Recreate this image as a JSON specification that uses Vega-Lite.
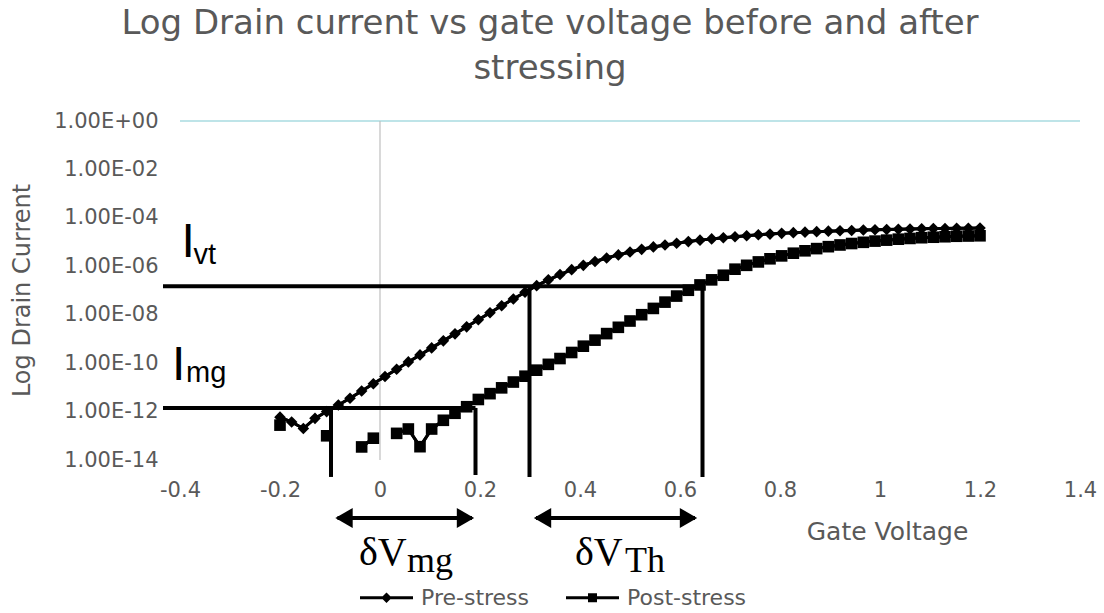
{
  "$schema": "https://vega.github.io/schema/vega-lite/v6.json",
  "width": 900,
  "height": 339,
  "autosize": {"type": "none"},
  "padding": {"left": 180, "top": 121, "right": 24, "bottom": 153},
  "background": "white",
  "view": {"stroke": null},
  "title": {
    "text": ["Log Drain current vs gate voltage before and after", "stressing"],
    "anchor": "middle",
    "frame": "group",
    "dx": -80,
    "font": "DejaVu Sans",
    "fontSize": 34,
    "fontWeight": "normal",
    "color": "#595959",
    "lineHeight": 45,
    "offset": 24
  },
  "config": {
    "axisX": {
      "domain": false, "ticks": false, "grid": false,
      "labelFont": "DejaVu Sans", "labelFontSize": 21, "labelColor": "#595959",
      "labelPadding": 19, "labelFlush": false, "labelOverlap": false,
      "titleFont": "DejaVu Sans", "titleFontSize": 25,
      "titleFontWeight": "normal", "titleColor": "#595959",
      "titleX": 707, "titleY": 71, "titleAlign": "center", "titleBaseline": "middle"
    },
    "axisY": {
      "domain": false, "ticks": false, "grid": false,
      "labelFont": "DejaVu Sans", "labelFontSize": 21, "labelColor": "#595959",
      "labelPadding": 22, "labelOverlap": false, "labelFlush": false,
      "titleFont": "DejaVu Sans", "titleFontSize": 24,
      "titleFontWeight": "normal", "titleColor": "#595959",
      "titleX": -158, "titleY": 169, "titleAlign": "center", "titleBaseline": "middle", "titleAngle": -90
    }
  },
  "datasets": {
    "curves": [
      {"series": "Pre-stress", "V": -0.2, "logI": -12.23},
      {"series": "Pre-stress", "V": -0.1767, "logI": -12.43},
      {"series": "Pre-stress", "V": -0.1533, "logI": -12.7},
      {"series": "Pre-stress", "V": -0.13, "logI": -12.28},
      {"series": "Pre-stress", "V": -0.1067, "logI": -12.0},
      {"series": "Pre-stress", "V": -0.0833, "logI": -11.73},
      {"series": "Pre-stress", "V": -0.06, "logI": -11.45},
      {"series": "Pre-stress", "V": -0.0367, "logI": -11.15},
      {"series": "Pre-stress", "V": -0.0133, "logI": -10.85},
      {"series": "Pre-stress", "V": 0.01, "logI": -10.55},
      {"series": "Pre-stress", "V": 0.0333, "logI": -10.25},
      {"series": "Pre-stress", "V": 0.0567, "logI": -9.95},
      {"series": "Pre-stress", "V": 0.08, "logI": -9.66},
      {"series": "Pre-stress", "V": 0.1033, "logI": -9.37},
      {"series": "Pre-stress", "V": 0.1267, "logI": -9.08},
      {"series": "Pre-stress", "V": 0.15, "logI": -8.79},
      {"series": "Pre-stress", "V": 0.1733, "logI": -8.5},
      {"series": "Pre-stress", "V": 0.1967, "logI": -8.21},
      {"series": "Pre-stress", "V": 0.22, "logI": -7.92},
      {"series": "Pre-stress", "V": 0.2433, "logI": -7.63},
      {"series": "Pre-stress", "V": 0.2667, "logI": -7.35},
      {"series": "Pre-stress", "V": 0.29, "logI": -7.07},
      {"series": "Pre-stress", "V": 0.3133, "logI": -6.8},
      {"series": "Pre-stress", "V": 0.3367, "logI": -6.56},
      {"series": "Pre-stress", "V": 0.36, "logI": -6.34},
      {"series": "Pre-stress", "V": 0.3833, "logI": -6.14},
      {"series": "Pre-stress", "V": 0.4067, "logI": -5.96},
      {"series": "Pre-stress", "V": 0.43, "logI": -5.8},
      {"series": "Pre-stress", "V": 0.4533, "logI": -5.66},
      {"series": "Pre-stress", "V": 0.4767, "logI": -5.53},
      {"series": "Pre-stress", "V": 0.5, "logI": -5.41},
      {"series": "Pre-stress", "V": 0.5233, "logI": -5.3},
      {"series": "Pre-stress", "V": 0.5467, "logI": -5.2},
      {"series": "Pre-stress", "V": 0.57, "logI": -5.12},
      {"series": "Pre-stress", "V": 0.5933, "logI": -5.05},
      {"series": "Pre-stress", "V": 0.6167, "logI": -4.98},
      {"series": "Pre-stress", "V": 0.64, "logI": -4.92},
      {"series": "Pre-stress", "V": 0.6633, "logI": -4.87},
      {"series": "Pre-stress", "V": 0.6867, "logI": -4.82},
      {"series": "Pre-stress", "V": 0.71, "logI": -4.78},
      {"series": "Pre-stress", "V": 0.7333, "logI": -4.74},
      {"series": "Pre-stress", "V": 0.7567, "logI": -4.7},
      {"series": "Pre-stress", "V": 0.78, "logI": -4.67},
      {"series": "Pre-stress", "V": 0.8033, "logI": -4.64},
      {"series": "Pre-stress", "V": 0.8267, "logI": -4.61},
      {"series": "Pre-stress", "V": 0.85, "logI": -4.59},
      {"series": "Pre-stress", "V": 0.8733, "logI": -4.57},
      {"series": "Pre-stress", "V": 0.8967, "logI": -4.55},
      {"series": "Pre-stress", "V": 0.92, "logI": -4.53},
      {"series": "Pre-stress", "V": 0.9433, "logI": -4.52},
      {"series": "Pre-stress", "V": 0.9667, "logI": -4.5},
      {"series": "Pre-stress", "V": 0.99, "logI": -4.49},
      {"series": "Pre-stress", "V": 1.0133, "logI": -4.48},
      {"series": "Pre-stress", "V": 1.0367, "logI": -4.47},
      {"series": "Pre-stress", "V": 1.06, "logI": -4.46},
      {"series": "Pre-stress", "V": 1.0833, "logI": -4.45},
      {"series": "Pre-stress", "V": 1.1067, "logI": -4.44},
      {"series": "Pre-stress", "V": 1.13, "logI": -4.44},
      {"series": "Pre-stress", "V": 1.1533, "logI": -4.43},
      {"series": "Pre-stress", "V": 1.1767, "logI": -4.43},
      {"series": "Pre-stress", "V": 1.2, "logI": -4.42},
      {"series": "Post-stress", "V": -0.2, "logI": -12.56},
      {"series": "Post-stress", "V": -0.1767, "logI": null},
      {"series": "Post-stress", "V": -0.1533, "logI": null},
      {"series": "Post-stress", "V": -0.13, "logI": null},
      {"series": "Post-stress", "V": -0.1067, "logI": -13.0},
      {"series": "Post-stress", "V": -0.0833, "logI": null},
      {"series": "Post-stress", "V": -0.06, "logI": null},
      {"series": "Post-stress", "V": -0.0367, "logI": -13.46},
      {"series": "Post-stress", "V": -0.0133, "logI": -13.1},
      {"series": "Post-stress", "V": 0.01, "logI": null},
      {"series": "Post-stress", "V": 0.0333, "logI": -12.9},
      {"series": "Post-stress", "V": 0.0567, "logI": -12.72},
      {"series": "Post-stress", "V": 0.08, "logI": -13.45},
      {"series": "Post-stress", "V": 0.1033, "logI": -12.72},
      {"series": "Post-stress", "V": 0.1267, "logI": -12.36},
      {"series": "Post-stress", "V": 0.15, "logI": -12.07},
      {"series": "Post-stress", "V": 0.1733, "logI": -11.8},
      {"series": "Post-stress", "V": 0.1967, "logI": -11.5},
      {"series": "Post-stress", "V": 0.22, "logI": -11.26},
      {"series": "Post-stress", "V": 0.2433, "logI": -11.02},
      {"series": "Post-stress", "V": 0.2667, "logI": -10.78},
      {"series": "Post-stress", "V": 0.29, "logI": -10.54},
      {"series": "Post-stress", "V": 0.3133, "logI": -10.29},
      {"series": "Post-stress", "V": 0.3367, "logI": -10.05},
      {"series": "Post-stress", "V": 0.36, "logI": -9.81},
      {"series": "Post-stress", "V": 0.3833, "logI": -9.56},
      {"series": "Post-stress", "V": 0.4067, "logI": -9.3},
      {"series": "Post-stress", "V": 0.43, "logI": -9.05},
      {"series": "Post-stress", "V": 0.4533, "logI": -8.78},
      {"series": "Post-stress", "V": 0.4767, "logI": -8.52},
      {"series": "Post-stress", "V": 0.5, "logI": -8.26},
      {"series": "Post-stress", "V": 0.5233, "logI": -8.0},
      {"series": "Post-stress", "V": 0.5467, "logI": -7.74},
      {"series": "Post-stress", "V": 0.57, "logI": -7.48},
      {"series": "Post-stress", "V": 0.5933, "logI": -7.23},
      {"series": "Post-stress", "V": 0.6167, "logI": -6.99},
      {"series": "Post-stress", "V": 0.64, "logI": -6.77},
      {"series": "Post-stress", "V": 0.6633, "logI": -6.56},
      {"series": "Post-stress", "V": 0.6867, "logI": -6.37},
      {"series": "Post-stress", "V": 0.71, "logI": -6.12},
      {"series": "Post-stress", "V": 0.7333, "logI": -5.96},
      {"series": "Post-stress", "V": 0.7567, "logI": -5.82},
      {"series": "Post-stress", "V": 0.78, "logI": -5.69},
      {"series": "Post-stress", "V": 0.8033, "logI": -5.57},
      {"series": "Post-stress", "V": 0.8267, "logI": -5.46},
      {"series": "Post-stress", "V": 0.85, "logI": -5.36},
      {"series": "Post-stress", "V": 0.8733, "logI": -5.27},
      {"series": "Post-stress", "V": 0.8967, "logI": -5.19},
      {"series": "Post-stress", "V": 0.92, "logI": -5.12},
      {"series": "Post-stress", "V": 0.9433, "logI": -5.06},
      {"series": "Post-stress", "V": 0.9667, "logI": -5.01},
      {"series": "Post-stress", "V": 0.99, "logI": -4.96},
      {"series": "Post-stress", "V": 1.0133, "logI": -4.92},
      {"series": "Post-stress", "V": 1.0367, "logI": -4.88},
      {"series": "Post-stress", "V": 1.06, "logI": -4.85},
      {"series": "Post-stress", "V": 1.0833, "logI": -4.82},
      {"series": "Post-stress", "V": 1.1067, "logI": -4.8},
      {"series": "Post-stress", "V": 1.13, "logI": -4.78},
      {"series": "Post-stress", "V": 1.1533, "logI": -4.76},
      {"series": "Post-stress", "V": 1.1767, "logI": -4.75},
      {"series": "Post-stress", "V": 1.2, "logI": -4.74}
    ],
    "guides": [
      {"name": "Ivt level", "v0": -0.434, "v1": 0.645, "l0": -6.82, "l1": -6.82},
      {"name": "Img level", "v0": -0.434, "v1": 0.191, "l0": -11.85, "l1": -11.85},
      {"name": "Vmg pre", "v0": -0.098, "v1": -0.098, "l0": -11.85, "l1": -14.7},
      {"name": "Vmg post", "v0": 0.191, "v1": 0.191, "l0": -11.85, "l1": -14.62},
      {"name": "Vth pre", "v0": 0.299, "v1": 0.299, "l0": -6.82, "l1": -14.7},
      {"name": "Vth post", "v0": 0.645, "v1": 0.645, "l0": -6.82, "l1": -14.7},
      {"name": "dVmg arrow", "v0": -0.085, "v1": 0.184, "l0": -16.4, "l1": -16.4},
      {"name": "dVth arrow", "v0": 0.312, "v1": 0.63, "l0": -16.4, "l1": -16.4}
    ],
    "headsLeft": [
      {"v": -0.072, "l": -16.4},
      {"v": 0.325, "l": -16.4}
    ],
    "headsRight": [
      {"v": 0.171, "l": -16.4},
      {"v": 0.617, "l": -16.4}
    ],
    "sansBig": [
      {"t": "I", "v": -0.397, "l": -5.62},
      {"t": "I", "v": -0.416, "l": -10.70}
    ],
    "sansSub": [
      {"t": "vt", "v": -0.373, "l": -5.92},
      {"t": "mg", "v": -0.388, "l": -10.78}
    ],
    "serifBig": [
      {"t": "δV", "v": -0.042, "l": -18.34},
      {"t": "δV", "v": 0.39, "l": -18.34}
    ],
    "serifSub": [
      {"t": "mg", "v": 0.054, "l": -18.62},
      {"t": "Th", "v": 0.49, "l": -18.62}
    ]
  },
  "resolve": {"scale": {"shape": "independent"}, "legend": {"shape": "independent"}},
  "layer": [
    {
      "data": {"name": "curves"},
      "mark": {"type": "line", "color": "black", "strokeWidth": 3},
      "encoding": {
        "x": {
          "field": "V", "type": "quantitative",
          "scale": {"domain": [-0.4, 1.4], "nice": false, "zero": false},
          "axis": {
            "values": [-0.4, -0.2, 0, 0.2, 0.4, 0.6, 0.8, 1, 1.2, 1.4],
            "labelExpr": "datum.value + ''",
            "title": "Gate Voltage"
          }
        },
        "y": {
          "field": "logI", "type": "quantitative",
          "scale": {"domain": [-14, 0], "nice": false, "zero": false},
          "axis": {
            "values": [0, -2, -4, -6, -8, -10, -12, -14],
            "labelExpr": "'1.00E' + (datum.value >= 0 ? '+' : '-') + (abs(datum.value) < 10 ? '0' : '') + abs(datum.value)",
            "title": "Log Drain Current"
          }
        },
        "detail": {"field": "series"}
      }
    },
    {
      "data": {"values": [{"k": 1}]},
      "mark": {"type": "rule", "color": "#A9DBE1", "strokeWidth": 1.5},
      "encoding": {
        "x": {"datum": -0.4, "type": "quantitative"},
        "x2": {"datum": 1.4},
        "y": {"datum": 0, "type": "quantitative"}
      }
    },
    {
      "data": {"values": [{"k": 1}]},
      "mark": {"type": "rule", "color": "#BFBFBF", "strokeWidth": 1.2},
      "encoding": {
        "x": {"datum": 0, "type": "quantitative"},
        "y": {"datum": -14, "type": "quantitative"},
        "y2": {"datum": 0}
      }
    },
    {
      "data": {"name": "curves"},
      "mark": {"type": "line", "color": "black", "strokeWidth": 3},
      "encoding": {
        "x": {"field": "V", "type": "quantitative"},
        "y": {"field": "logI", "type": "quantitative"},
        "detail": {"field": "series"}
      }
    },
    {
      "data": {"name": "curves"},
      "mark": {"type": "point", "filled": true, "color": "black", "opacity": 1, "size": 135},
      "encoding": {
        "x": {"field": "V", "type": "quantitative"},
        "y": {"field": "logI", "type": "quantitative"},
        "shape": {
          "field": "series", "type": "nominal",
          "scale": {"domain": ["Pre-stress", "Post-stress"], "range": ["diamond", "square"]},
          "legend": null
        }
      }
    },
    {
      "data": {"name": "curves"},
      "mark": {"type": "point", "filled": true, "color": "black", "opacity": 0, "size": 10},
      "encoding": {
        "x": {"field": "V", "type": "quantitative"},
        "y": {"field": "logI", "type": "quantitative"},
        "shape": {
          "field": "series", "type": "nominal",
          "scale": {"domain": ["Pre-stress", "Post-stress"], "range": ["M-1,-0.055H1V0.055H-1Z M0,-0.2L0.2,0L0,0.2L-0.2,0Z", "M-1,-0.055H1V0.055H-1Z M-0.17,-0.17H0.17V0.17H-0.17Z"]},
          "legend": {
            "orient": "none", "legendX": 180, "legendY": 450, "direction": "horizontal",
            "title": null, "symbolSize": 2809, "symbolFillColor": "black", "symbolStrokeColor": "black",
            "symbolStrokeWidth": 0, "symbolOpacity": 1,
            "labelFont": "DejaVu Sans", "labelFontSize": 22, "labelColor": "#595959",
            "labelOffset": 8, "columnPadding": 36, "padding": 0
          }
        }
      }
    },
    {
      "data": {"name": "guides"},
      "mark": {"type": "rule", "color": "black", "strokeWidth": 4},
      "encoding": {
        "x": {"field": "v0", "type": "quantitative"},
        "x2": {"field": "v1"},
        "y": {"field": "l0", "type": "quantitative"},
        "y2": {"field": "l1"}
      }
    },
    {
      "data": {"name": "headsLeft"},
      "mark": {"type": "point", "shape": "triangle-left", "filled": true, "color": "black", "opacity": 1, "size": 400},
      "encoding": {
        "x": {"field": "v", "type": "quantitative"},
        "y": {"field": "l", "type": "quantitative"}
      }
    },
    {
      "data": {"name": "headsRight"},
      "mark": {"type": "point", "shape": "triangle-right", "filled": true, "color": "black", "opacity": 1, "size": 400},
      "encoding": {
        "x": {"field": "v", "type": "quantitative"},
        "y": {"field": "l", "type": "quantitative"}
      }
    },
    {
      "data": {"name": "sansBig"},
      "mark": {"type": "text", "font": "Liberation Sans", "fontSize": 48, "align": "left", "baseline": "alphabetic", "color": "black"},
      "encoding": {
        "x": {"field": "v", "type": "quantitative"},
        "y": {"field": "l", "type": "quantitative"},
        "text": {"field": "t"}
      }
    },
    {
      "data": {"name": "sansSub"},
      "mark": {"type": "text", "font": "Liberation Sans", "fontSize": 29, "align": "left", "baseline": "alphabetic", "color": "black"},
      "encoding": {
        "x": {"field": "v", "type": "quantitative"},
        "y": {"field": "l", "type": "quantitative"},
        "text": {"field": "t"}
      }
    },
    {
      "data": {"name": "serifBig"},
      "mark": {"type": "text", "font": "Liberation Serif", "fontSize": 40, "align": "left", "baseline": "alphabetic", "color": "black"},
      "encoding": {
        "x": {"field": "v", "type": "quantitative"},
        "y": {"field": "l", "type": "quantitative"},
        "text": {"field": "t"}
      }
    },
    {
      "data": {"name": "serifSub"},
      "mark": {"type": "text", "font": "Liberation Serif", "fontSize": 36, "align": "left", "baseline": "alphabetic", "color": "black"},
      "encoding": {
        "x": {"field": "v", "type": "quantitative"},
        "y": {"field": "l", "type": "quantitative"},
        "text": {"field": "t"}
      }
    }
  ]
}
